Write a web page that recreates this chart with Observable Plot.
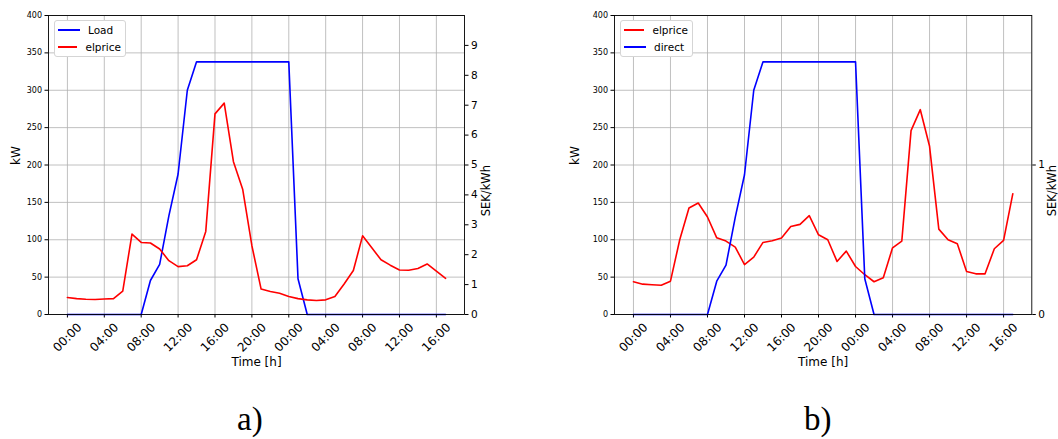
<!DOCTYPE html>
<html><head><meta charset="utf-8">
<script src="https://cdn.jsdelivr.net/npm/d3@7"></script>
<script src="https://cdn.jsdelivr.net/npm/@observablehq/plot@0.6"></script>
<style>
body{margin:0;background:#fff;font-family:"DejaVu Sans",sans-serif;}
#wrap{position:relative;width:1058px;height:439px;overflow:hidden;}
.chart{position:absolute;top:0;}
.legend{position:absolute;background:#fff;border:1px solid #d5d5d5;border-radius:3px;box-sizing:border-box;padding:1px 4px 0 3px;font-size:10.5px;color:#000;}
.legend .row{display:flex;align-items:center;height:16.4px;}
.legend .sw{width:22px;height:2px;margin-right:8px;}
.tag{position:absolute;font-family:"Liberation Serif",serif;font-size:33px;color:#000;line-height:1.05;}
</style></head><body><div id="wrap"></div>
<script>
// ---- data ----
const hours = [0,1,2,3,4,5,6,7,8,9,10,11,12,13,14,15,16,17,18,19,20,21,22,23,24,25,26,27,28,29,30,31,32,33,34,35,36,37,38,39,40,41];
const loadA = [0,0,0,0,0,0,0,0,0,45.5,67,132,188,300,338,338,338,338,338,338,338,338,338,338,338,47.8,0,0,0,0,0,0,0,0,0,0,0,0,0,0,0,0];
const priceA = [0.57,0.53,0.51,0.50,0.52,0.53,0.78,2.69,2.41,2.39,2.19,1.80,1.60,1.63,1.83,2.78,6.71,7.07,5.11,4.19,2.30,0.85,0.77,0.71,0.60,0.53,0.49,0.47,0.49,0.60,1.02,1.47,2.63,2.23,1.83,1.65,1.49,1.48,1.54,1.69,1.45,1.21];
const directB = [0,0,0,0,0,0,0,0,0,44.6,66,130,187,300,338,338,338,338,338,338,338,338,338,338,338,47.8,0,0,0,0,0,0,0,0,0,0,0,0,0,0,0,0];
const priceB = [0.219,0.203,0.199,0.196,0.223,0.50,0.712,0.746,0.652,0.513,0.491,0.451,0.333,0.384,0.482,0.493,0.511,0.589,0.603,0.661,0.533,0.50,0.355,0.424,0.321,0.266,0.219,0.246,0.446,0.491,1.23,1.37,1.125,0.571,0.50,0.473,0.288,0.272,0.272,0.44,0.496,0.808];
const xTicks = [0,4,8,12,16,20,24,28,32,36,40];
const xTickLabels = ["00:00","04:00","08:00","12:00","16:00","20:00","00:00","04:00","08:00","12:00","16:00"];
const kwTicks = [0,50,100,150,200,250,300,350,400];
const priceTicksA = [0,1,2,3,4,5,6,7,8,9];
const priceTicksB = [0,1];
const priceMaxA = 10, priceMaxB = 2;
const BLUE = "#0000ff", RED = "#ff0000", GRID = "#b0b0b0";

function chart(opts){
  const k = 400 / opts.priceMax;
  const rows = hours.map((h,i)=>({h, kw: opts.kw[i], price: opts.price[i]}));
  const ticks = xTicks.map((h,i)=>({h, label: xTickLabels[i]}));
  const lineKw = Plot.lineY(rows,{x:"h", y:"kw", stroke:BLUE, strokeWidth:1.6});
  const linePr = Plot.lineY(rows,{x:"h", y: d => d.price * k, stroke:RED, strokeWidth:1.6});
  return Plot.plot({
    width: opts.width, height: 380,
    marginLeft: opts.ml, marginRight: opts.mr, marginTop: 15, marginBottom: 66,
    x:{domain:[-2.05, 43.05]},
    y:{domain:[0,400]},
    style:{fontFamily:"DejaVu Sans", fontSize:"10px", color:"#000", background:"transparent", overflow:"visible"},
    marks:[
      Plot.gridX(xTicks,{stroke:GRID, strokeOpacity:1, strokeWidth:0.8}),
      Plot.gridY(kwTicks,{stroke:GRID, strokeOpacity:1, strokeWidth:0.8}),
      Plot.axisX(xTicks,{tickSize:3.5, tickFormat:()=>"", label:null}),
      Plot.text(ticks,{x:"h", text:"label", frameAnchor:"bottom", rotate:-45, textAnchor:"middle", lineAnchor:"middle", dy:23, fontSize:12}),
      Plot.axisY(kwTicks,{anchor:"left", tickSize:3.5, tickPadding:3, fontSize:8, label:null}),
      Plot.axisY(opts.priceTicks.map(v=>v*k),{anchor:"right", tickSize:3.5, tickPadding:3, fontSize:10.5, tickFormat: d => d3.format("d")(Math.round(d/k)), label:null}),
      Plot.text(["kW"],{frameAnchor:"left", rotate:-90, dx:-opts.kwOff, fontSize:12}),
      Plot.text(["SEK/kWh"],{frameAnchor:"right", rotate:-90, dx:opts.seOff, fontSize:11.5}),
      Plot.text(["Time [h]"],{frameAnchor:"bottom", dy:51, fontSize:12}),
      ...(opts.order === "kwFirst" ? [lineKw, linePr] : [linePr, lineKw]),
      Plot.frame({stroke:"#000", strokeWidth:0.9})
    ]
  });
}

const wrap = document.getElementById("wrap");
function place(el, left){ el.classList.add("chart"); el.style.left = left+"px"; wrap.appendChild(el); }
place(chart({width:529, ml:48, mr:65, kw:loadA, price:priceA, priceMax:priceMaxA, priceTicks:priceTicksA, kwOff:32, seOff:22, order:"kwFirst"}), 0);
place(chart({width:529, ml:85, mr:26.7, kw:directB, price:priceB, priceMax:priceMaxB, priceTicks:priceTicksB, kwOff:39, seOff:21, order:"prFirst"}), 529);

function legend(left, items, width){
  const d = document.createElement("div");
  d.className = "legend";
  d.style.left = left+"px"; d.style.top = "20px"; d.style.width = width+"px"; d.style.height = "37px";
  for (const [name,color] of items){
    const r = document.createElement("div"); r.className = "row";
    const s = document.createElement("span"); s.className = "sw"; s.style.background = color;
    const t = document.createElement("span"); t.textContent = name;
    r.appendChild(s); r.appendChild(t); d.appendChild(r);
  }
  wrap.appendChild(d);
}
legend(54, [["Load",BLUE],["elprice",RED]], 72);
legend(620, [["elprice",RED],["direct",BLUE]], 73);

function tag(text, cx){
  const d = document.createElement("div"); d.className = "tag"; d.textContent = text;
  wrap.appendChild(d);
  d.style.top = "402px";
  d.style.left = (cx - d.offsetWidth/2) + "px";
}
tag("a)", 250);
tag("b)", 818);
</script></body></html>
